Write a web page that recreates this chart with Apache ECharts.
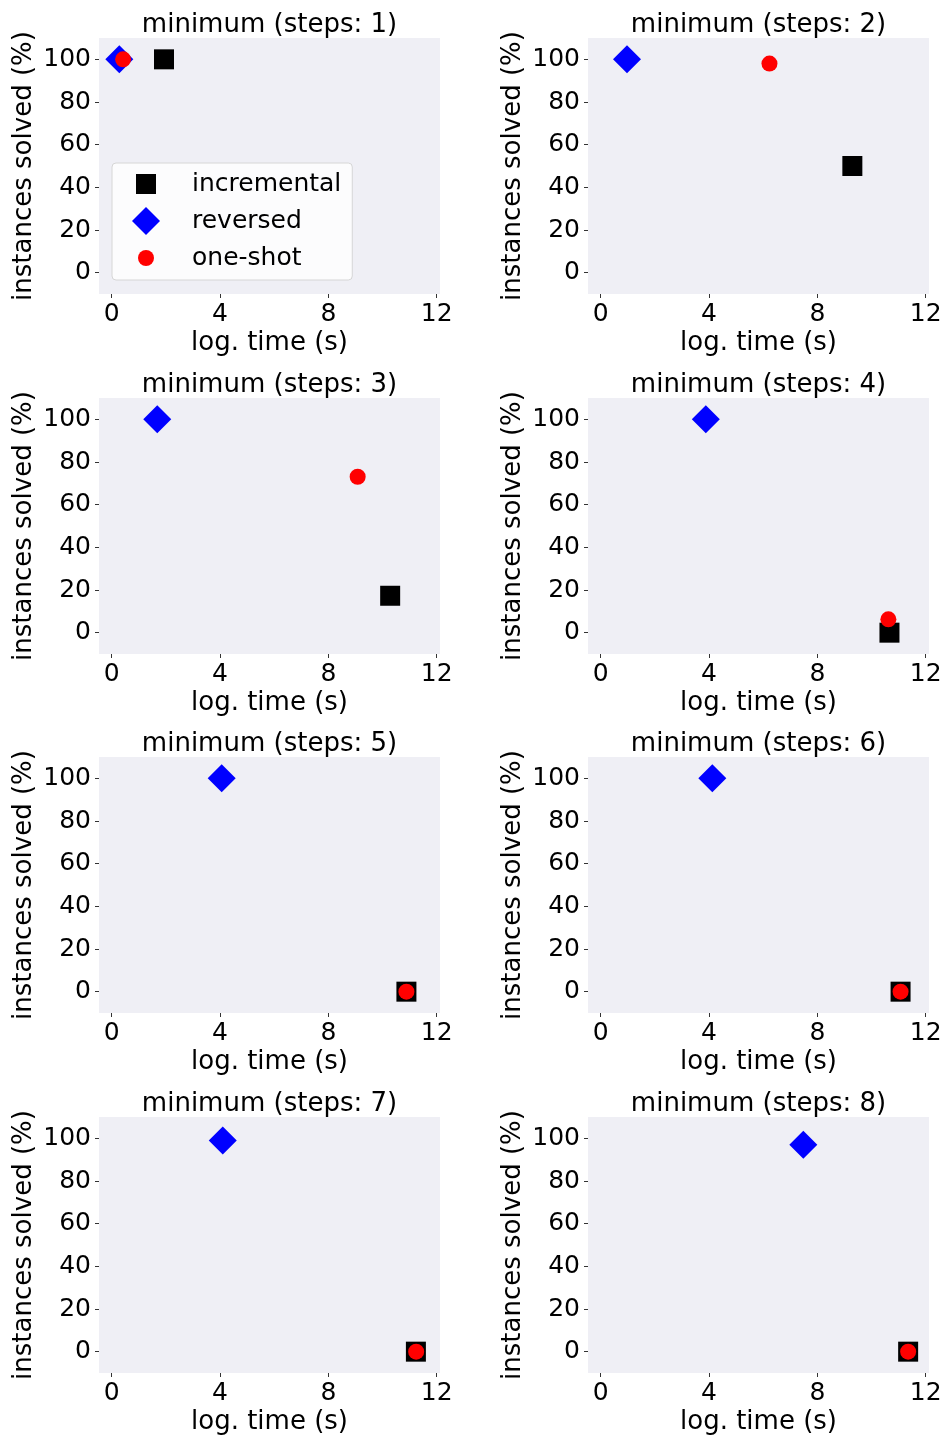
<!DOCTYPE html>
<html>
<head>
<meta charset="utf-8">
<script src="https://cdn.jsdelivr.net/npm/echarts@6/dist/echarts.min.js"></script>
<style>
html,body{margin:0;padding:0;background:#fff;}
#chart{width:946px;height:1437px;}
</style>
</head>
<body>
<div id="chart"></div>
<script>
// ---- data ----
const steps = [1, 2, 3, 4, 5, 6, 7, 8];
const seriesNames = ['incremental', 'reversed', 'one-shot'];
const incrementalX = [1.93, 9.29, 10.28, 10.66, 10.88, 11.07, 11.23, 11.35];
const incrementalY = [100, 50, 17.3, 0, 0, 0, 0, 0];
const reversedX = [0.28, 0.97, 1.68, 3.88, 4.06, 4.12, 4.10, 7.48];
const reversedY = [100, 100, 100, 100, 100, 100, 99.0, 97.0];
const oneShotX = [0.42, 6.23, 9.08, 10.62, 10.88, 11.07, 11.24, 11.35];
const oneShotY = [100, 98, 73.1, 6.25, 0, 0, 0, 0];
const xTicks = [0, 4, 8, 12];
const yTicks = [0, 20, 40, 60, 80, 100];

// ---- layout / style ----
const FONT = 'DejaVu Sans';
const FS = 25;      // tick labels, legend
const FS_T = 26;    // titles, axis names
const colLeft = [99, 588];
const rowTop = [38, 398, 757, 1117];
const GW = 341, GH = 256;

const chart = echarts.init(document.getElementById('chart'), null, {renderer: 'canvas'});

const grids = [], xAxes = [], yAxes = [], titles = [], series = [];
steps.forEach((s, i) => {
  const col = i % 2, row = Math.floor(i / 2);
  const left = colLeft[col], top = rowTop[row];
  grids.push({left: left, top: top, width: GW, height: GH, show: true,
    backgroundColor: '#EFEFF5', borderWidth: 0, containLabel: false});
  titles.push({text: 'minimum (steps: ' + s + ')', left: left + GW / 2, top: top - 26,
    textAlign: 'center', padding: 0,
    textStyle: {fontFamily: FONT, fontSize: FS_T, fontWeight: 'normal', color: '#000'}});
  xAxes.push({type: 'value', gridIndex: i, min: -0.47, max: 12.12,
    axisLine: {show: false, onZero: false},
    axisTick: {show: true, length: 4, customValues: xTicks, lineStyle: {color: '#333', width: 1}},
    axisLabel: {customValues: xTicks, margin: 8, fontFamily: FONT, fontSize: FS, color: '#000'},
    splitLine: {show: false},
    name: 'log. time (s)', nameLocation: 'middle', nameGap: 36,
    nameTextStyle: {fontFamily: FONT, fontSize: FS_T, color: '#000'}});
  yAxes.push({type: 'value', gridIndex: i, min: -10, max: 110,
    axisLine: {show: false, onZero: false},
    axisTick: {show: true, length: 4, customValues: yTicks, lineStyle: {color: '#333', width: 1}},
    axisLabel: {customValues: yTicks, margin: 8, fontFamily: FONT, fontSize: FS, color: '#000'},
    splitLine: {show: false},
    name: 'instances solved (%)', nameLocation: 'middle', nameGap: 62,
    nameTextStyle: {fontFamily: FONT, fontSize: FS_T, color: '#000'}});
  series.push({type: 'scatter', name: seriesNames[0], xAxisIndex: i, yAxisIndex: i,
    symbol: 'rect', symbolSize: 20, itemStyle: {color: '#000000', opacity: 1},
    data: [[incrementalX[i], incrementalY[i]]]});
  series.push({type: 'scatter', name: seriesNames[1], xAxisIndex: i, yAxisIndex: i,
    symbol: 'diamond', symbolSize: 28, itemStyle: {color: '#0000FF', opacity: 1},
    data: [[reversedX[i], reversedY[i]]]});
  series.push({type: 'scatter', name: seriesNames[2], xAxisIndex: i, yAxisIndex: i,
    symbol: 'circle', symbolSize: 16, itemStyle: {color: '#FF0000', opacity: 1},
    data: [[oneShotX[i], oneShotY[i]]]});
});

const option = {
  animation: false,
  backgroundColor: '#ffffff',
  title: titles,
  grid: grids,
  xAxis: xAxes,
  yAxis: yAxes,
  legend: {
    left: 112, top: 163, orient: 'vertical',
    itemWidth: 28, itemHeight: 28, itemGap: 9,
    padding: [7, 11, 8, 20],
    backgroundColor: 'rgba(255,255,255,0.8)', borderColor: '#d6d6d6', borderWidth: 1, borderRadius: 4,
    selectedMode: false,
    textStyle: {fontFamily: FONT, fontSize: FS, color: '#000', padding: [0, 0, 0, 27]},
    data: [
      {name: seriesNames[0], icon: 'path://M0,0M28,28M4,4L24,4L24,24L4,24Z', itemStyle: {opacity: 1}},
      {name: seriesNames[1], icon: 'diamond', itemStyle: {opacity: 1}},
      {name: seriesNames[2], icon: 'path://M0,0M28,28M6,14A8,8,0,1,1,22,14A8,8,0,1,1,6,14Z', itemStyle: {opacity: 1}}
    ]
  },
  series: series
};
chart.setOption(option);
</script>
</body>
</html>
